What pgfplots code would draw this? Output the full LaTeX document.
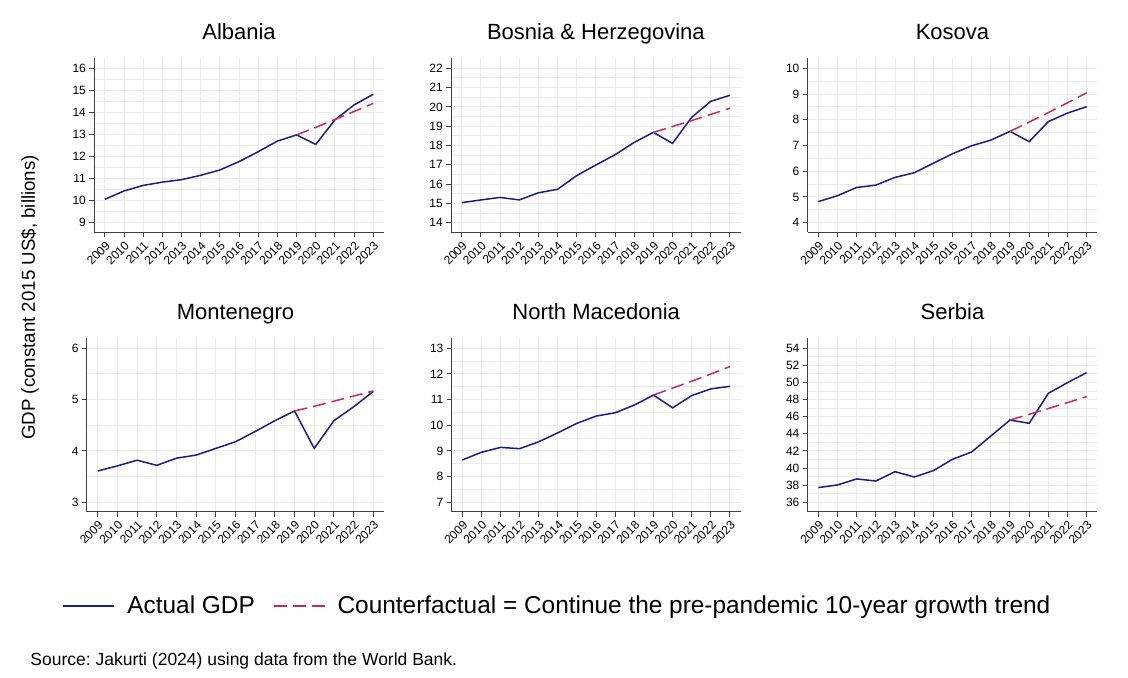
\documentclass[border=0pt]{standalone}
\usepackage{fontspec}
\setmainfont{Liberation Sans}
\usepackage{pgfplots}
\pgfplotsset{compat=1.18}
\frenchspacing
\definecolor{actual}{RGB}{28,28,135}
\definecolor{cf}{RGB}{200,40,90}
\newcommand{\ticksize}{\fontsize{6}{7}\selectfont}
\newcommand{\titlesize}{\fontsize{11}{13}\selectfont}
\newcommand{\legsize}{\fontsize{12.2}{14}\selectfont}
\pgfplotsset{
  panel/.style={
    scale only axis, anchor=south west,
    xmin=2008.45, xmax=2023.55,
    xtick={2009,...,2023},
    /pgf/number format/1000 sep={},
    /pgf/number format/assume math mode=true,
    axis lines*=left,
    axis line style={black!75, line width=0.5pt},
    tick align=outside, major tick length=2.5pt, minor tick length=0pt,
    tick style={black!75, line width=0.5pt},
    x tick label style={rotate=45, anchor=north east, font=\ticksize, inner sep=1pt},
    y tick label style={font=\ticksize, inner sep=1.5pt},
    xmajorgrids, ymajorgrids, yminorgrids, minor y tick num=1,
    major grid style={black!8, line width=0.5pt},
    minor grid style={black!8, line width=0.5pt},
    title style={font=\titlesize, at={(0.5,1)}, anchor=base, yshift=3.5pt, inner sep=0pt},
  },
  act/.style={color=actual, line width=0.75pt},
  cft/.style={color=cf, line width=0.75pt, dash pattern=on 6.5pt off 3pt},
}
\begin{document}
\begin{tikzpicture}
\useasboundingbox (0,0) rectangle (564pt,338.5pt);
% Albania
\begin{axis}[panel, at={(47.15pt,222.35pt)}, width=144.75pt, height=87pt,
  ymin=8.565, ymax=16.453, ytick={9,...,16}, title={Albania}]
\addplot[act] coordinates {(2009,10.06)(2010,10.44)(2011,10.69)(2012,10.84)(2013,10.95)(2014,11.15)(2015,11.39)(2016,11.77)(2017,12.22)(2018,12.70)(2019,12.98)(2020,12.55)(2021,13.66)(2022,14.34)(2023,14.82)};
\addplot[cft] coordinates {(2019,12.98)(2020,13.32)(2021,13.68)(2022,14.04)(2023,14.41)};
\end{axis}
% Bosnia
\begin{axis}[panel, at={(225.6pt,222.35pt)}, width=144.65pt, height=87pt,
  ymin=13.503, ymax=22.518, ytick={14,...,22}, title={Bosnia \& Herzegovina}]
\addplot[act] coordinates {(2009,15.04)(2010,15.18)(2011,15.31)(2012,15.18)(2013,15.55)(2014,15.73)(2015,16.44)(2016,16.99)(2017,17.52)(2018,18.16)(2019,18.68)(2020,18.11)(2021,19.46)(2022,20.29)(2023,20.60)};
\addplot[cft] coordinates {(2019,18.68)(2020,18.98)(2021,19.29)(2022,19.61)(2023,19.93)};
\end{axis}
% Kosova
\begin{axis}[panel, at={(403.9pt,222.35pt)}, width=144.7pt, height=87pt,
  ymin=3.627, ymax=10.389, ytick={4,...,10}, title={Kosova}]
\addplot[act] coordinates {(2009,4.82)(2010,5.05)(2011,5.37)(2012,5.46)(2013,5.76)(2014,5.94)(2015,6.31)(2016,6.68)(2017,6.99)(2018,7.21)(2019,7.55)(2020,7.15)(2021,7.93)(2022,8.26)(2023,8.51)};
\addplot[cft] coordinates {(2019,7.55)(2020,7.91)(2021,8.28)(2022,8.66)(2023,9.05)};
\end{axis}
% Montenegro
\begin{axis}[panel, at={(43.45pt,82.65pt)}, width=148.6pt, height=86.7pt,
  ymin=2.817, ymax=6.195, ytick={3,...,6}, title={Montenegro}]
\addplot[act] coordinates {(2009,3.61)(2010,3.71)(2011,3.82)(2012,3.72)(2013,3.86)(2014,3.92)(2015,4.05)(2016,4.18)(2017,4.38)(2018,4.59)(2019,4.78)(2020,4.05)(2021,4.59)(2022,4.86)(2023,5.16)};
\addplot[cft] coordinates {(2019,4.78)(2020,4.87)(2021,4.97)(2022,5.07)(2023,5.17)};
\end{axis}
% North Macedonia
\begin{axis}[panel, at={(225.9pt,82.65pt)}, width=144.35pt, height=86.7pt,
  ymin=6.634, ymax=13.39, ytick={7,...,13}, title={North Macedonia},
  legend columns=2,
  legend image code/.code={\draw[#1] (0pt,0pt) -- (25.5pt,0pt); \path[draw=none, fill=none] (0pt,0pt) -- (30pt,0pt);},
  legend style={at={(axis description cs:0.3696,-0.5438)}, anchor=center, draw=none, fill=none,
    font=\legsize, /tikz/every even column/.append style={column sep=7pt}},
  legend cell align=left]
\addplot[act] coordinates {(2009,8.65)(2010,8.95)(2011,9.14)(2012,9.09)(2013,9.36)(2014,9.71)(2015,10.08)(2016,10.36)(2017,10.49)(2018,10.79)(2019,11.18)(2020,10.68)(2021,11.16)(2022,11.42)(2023,11.52)};
\addlegendentry{Actual GDP}
\addplot[cft] coordinates {(2019,11.18)(2020,11.45)(2021,11.72)(2022,12.00)(2023,12.29)};
\addlegendentry{Counterfactual = Continue the pre-pandemic 10-year growth trend}
\end{axis}
% Serbia
\begin{axis}[panel, at={(403.9pt,82.65pt)}, width=144.7pt, height=86.7pt,
  ymin=34.9, ymax=55.17, ytick={36,38,...,54}, title={Serbia}]
\addplot[act] coordinates {(2009,37.72)(2010,38.03)(2011,38.73)(2012,38.49)(2013,39.58)(2014,38.96)(2015,39.70)(2016,41.03)(2017,41.88)(2018,43.75)(2019,45.62)(2020,45.23)(2021,48.74)(2022,49.99)(2023,51.16)};
\addplot[cft] coordinates {(2019,45.62)(2020,46.28)(2021,46.96)(2022,47.65)(2023,48.35)};
\end{axis}
\node[rotate=90, font=\fontsize{9.35}{11}\selectfont, inner sep=0pt] at (15pt,189.75pt) {GDP (constant 2015 US\$, billions)};
\node[anchor=base west, font=\fontsize{8.75}{10}\selectfont, inner sep=0pt] at (15pt,6pt) {Source: Jakurti (2024) using data from the World Bank.};
\end{tikzpicture}
\end{document}
